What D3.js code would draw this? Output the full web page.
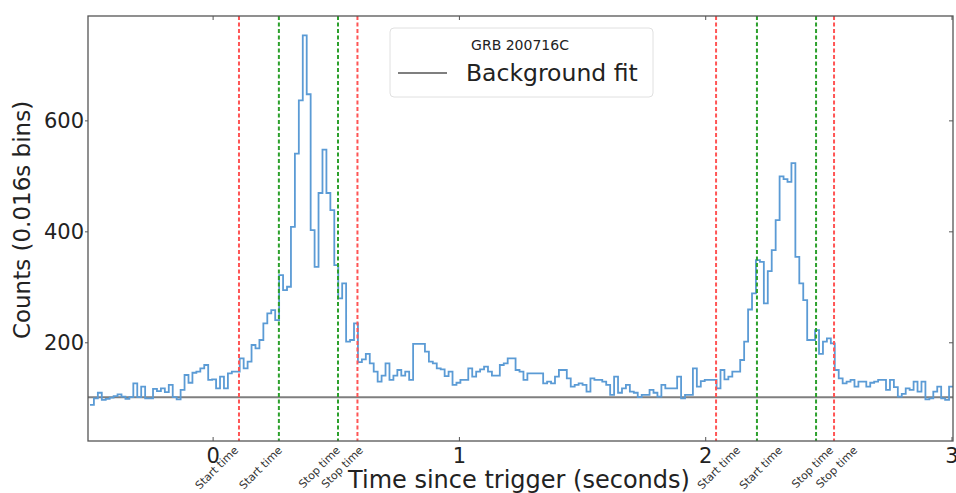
<!DOCTYPE html>
<html>
<head>
<meta charset="utf-8">
<script src="https://cdn.jsdelivr.net/npm/d3@7"></script>
<style>
    body { margin: 0; background: #fff; }
    text { font-family: "DejaVu Sans", sans-serif; }
</style>
</head>
<body>
<div id="chart"></div>
<script>
// light curve, counts per 0.016 s bin, starting at -0.5 s
const binStart = -0.5;
const binWidth = 0.016;
const counts = [
    88, 100, 110, 97, 99, 101, 104, 107, 103, 99, 102, 127, 102, 121, 100, 100, 117, 113, 118, 111,
    124, 102, 98, 115, 142, 128, 146, 148, 154, 160, 133, 134, 118, 139, 118, 145, 148, 148, 172, 154,
    166, 196, 190, 205, 235, 253, 259, 241, 322, 295, 301, 409, 541, 637, 754, 648, 403, 337, 470, 548,
    470, 439, 340, 280, 307, 202, 205, 235, 165, 170, 180, 163, 148, 130, 141, 163, 133, 141, 151, 141,
    148, 133, 198, 198, 198, 184, 166, 163, 154, 152, 140, 148, 124, 128, 133, 133, 154, 139, 148, 152,
    157, 148, 141, 141, 160, 163, 172, 172, 151, 148, 133, 145, 145, 145, 145, 127, 130, 127, 139, 151,
    151, 136, 121, 124, 127, 124, 112, 136, 133, 133, 130, 124, 106, 139, 110, 118, 124, 112, 110, 102,
    106, 106, 115, 110, 103, 124, 118, 118, 118, 139, 100, 106, 106, 154, 121, 131, 133, 133, 133, 118,
    151, 134, 139, 148, 148, 169, 202, 260, 289, 349, 346, 271, 329, 367, 421, 500, 495, 490, 524, 355,
    307, 277, 205, 205, 223, 180, 202, 208, 199, 151, 136, 127, 130, 133, 121, 130, 130, 121, 128, 130,
    133, 133, 115, 133, 120, 103, 108, 118, 115, 130, 112, 130, 98, 100, 112, 121, 100, 97, 121
];
const backgroundLevel = 102;

// selection markers (seconds since trigger)
const redTimes = [0.105, 0.586, 2.042, 2.521];
const greenTimes = [0.267, 0.507, 2.208, 2.448];
// rotated tick labels (time where each label ends)
const labelTimes = [0.121, 0.299, 0.535, 0.628, 2.160, 2.330, 2.537, 2.635];
const labelNames = ["Start time", "Start time", "Stop time", "Stop time",
    "Start time", "Start time", "Stop time", "Stop time"];

const xTicks = [0, 1, 2, 3];
const yTicks = [200, 400, 600];

// margin convention
const svgWidth = 956,
    svgHeight = 493,
    margin = { top: 16, right: 3, bottom: 52, left: 88 },
    width = svgWidth - margin.left - margin.right,
    height = svgHeight - margin.top - margin.bottom;

let svg = d3.select("#chart").append("svg")
    .attr("width", svgWidth)
    .attr("height", svgHeight);
let g = svg.append("g")
    .attr("transform", `translate(${margin.left},${margin.top})`);

let xScale = d3.scaleLinear()
    .domain([-0.508, 3.004])
    .range([0, width]);
let yScale = d3.scaleLinear()
    .domain([23, 789])
    .range([height, 0]);

svg.append("defs").append("clipPath")
    .attr("id", "plot-clip")
    .append("rect")
    .attr("width", width)
    .attr("height", height);

let plot = g.append("g").attr("clip-path", "url(#plot-clip)");

// step data: left edge of each bin, plus closing edge
let steps = counts.map((c, i) => ({ t: binStart + i * binWidth, c: c }));
steps.push({ t: binStart + counts.length * binWidth, c: counts[counts.length - 1] });

let stepLine = d3.line()
    .x((d) => xScale(d.t))
    .y((d) => yScale(d.c))
    .curve(d3.curveStepAfter);

// background fit
plot.append("line")
    .attr("x1", 0)
    .attr("x2", width)
    .attr("y1", yScale(backgroundLevel))
    .attr("y2", yScale(backgroundLevel))
    .attr("stroke", "#7f7f7f")
    .attr("stroke-width", 2);

// light curve
plot.append("path")
    .datum(steps)
    .attr("d", stepLine)
    .attr("fill", "none")
    .attr("stroke", "#5b9bd5")
    .attr("stroke-width", 1.8);

// dashed markers
plot.selectAll(".red-line")
    .data(redTimes)
    .join("line")
    .attr("class", "red-line")
    .attr("x1", (d) => xScale(d))
    .attr("x2", (d) => xScale(d))
    .attr("y1", 0)
    .attr("y2", height)
    .attr("stroke", "#ff5555")
    .attr("stroke-width", 2)
    .attr("stroke-dasharray", "4,2.5");

plot.selectAll(".green-line")
    .data(greenTimes)
    .join("line")
    .attr("class", "green-line")
    .attr("x1", (d) => xScale(d))
    .attr("x2", (d) => xScale(d))
    .attr("y1", 0)
    .attr("y2", height)
    .attr("stroke", "#2ca02c")
    .attr("stroke-width", 2)
    .attr("stroke-dasharray", "4,2.5");

// frame
g.append("rect")
    .attr("width", width)
    .attr("height", height)
    .attr("fill", "none")
    .attr("stroke", "#555")
    .attr("stroke-width", 1.3);

// ticks (inside on all sides)
g.selectAll(".xtick")
    .data(xTicks)
    .join("g")
    .attr("class", "xtick")
    .each(function (d) {
        let x = xScale(d);
        let s = d3.select(this);
        s.append("line").attr("x1", x).attr("x2", x).attr("y1", height).attr("y2", height - 4)
            .attr("stroke", "#555");
        s.append("line").attr("x1", x).attr("x2", x).attr("y1", 0).attr("y2", 4)
            .attr("stroke", "#555");
        s.append("text")
            .attr("x", x)
            .attr("y", height + 22)
            .attr("text-anchor", "middle")
            .attr("font-size", 21)
            .attr("fill", "#222")
            .text(d);
    });

g.selectAll(".ytick")
    .data(yTicks)
    .join("g")
    .attr("class", "ytick")
    .each(function (d) {
        let y = yScale(d);
        let s = d3.select(this);
        s.append("line").attr("x1", -3).attr("x2", 0).attr("y1", y).attr("y2", y)
            .attr("stroke", "#555");
        s.append("line").attr("x1", width).attr("x2", width - 4).attr("y1", y).attr("y2", y)
            .attr("stroke", "#555");
        s.append("text")
            .attr("x", -4)
            .attr("y", y)
            .attr("dy", "0.35em")
            .attr("text-anchor", "end")
            .attr("font-size", 21)
            .attr("fill", "#222")
            .text(d);
    });

// axis labels
g.append("text")
    .attr("x", 431)
    .attr("y", height + 47)
    .attr("text-anchor", "middle")
    .attr("font-size", 24)
    .attr("fill", "#222")
    .text("Time since trigger (seconds)");

g.append("text")
    .attr("transform", `translate(-58, 204) rotate(-90)`)
    .attr("text-anchor", "middle")
    .attr("font-size", 23)
    .attr("fill", "#222")
    .text("Counts (0.016s bins)");

// rotated marker labels
g.selectAll(".marker-label")
    .data(labelTimes)
    .join("text")
    .attr("class", "marker-label")
    .attr("transform", (d) => `translate(${xScale(d) - 4}, ${height + 10}) rotate(-45)`)
    .attr("text-anchor", "end")
    .attr("font-size", 11)
    .attr("fill", "#333")
    .text((d, i) => labelNames[i]);

// legend
let legend = svg.append("g").attr("transform", "translate(390, 28)");
legend.append("rect")
    .attr("width", 263)
    .attr("height", 69)
    .attr("rx", 4)
    .attr("fill", "#fff")
    .attr("fill-opacity", 0.85)
    .attr("stroke", "#e0e0e0");
legend.append("text")
    .attr("x", 130)
    .attr("y", 22)
    .attr("text-anchor", "middle")
    .attr("font-size", 14)
    .attr("fill", "#222")
    .text("GRB 200716C");
legend.append("line")
    .attr("x1", 8)
    .attr("x2", 57)
    .attr("y1", 45)
    .attr("y2", 45)
    .attr("stroke", "#7f7f7f")
    .attr("stroke-width", 2);
legend.append("text")
    .attr("x", 76)
    .attr("y", 53)
    .attr("font-size", 23.5)
    .attr("fill", "#222")
    .text("Background fit");
</script>
</body>
</html>
